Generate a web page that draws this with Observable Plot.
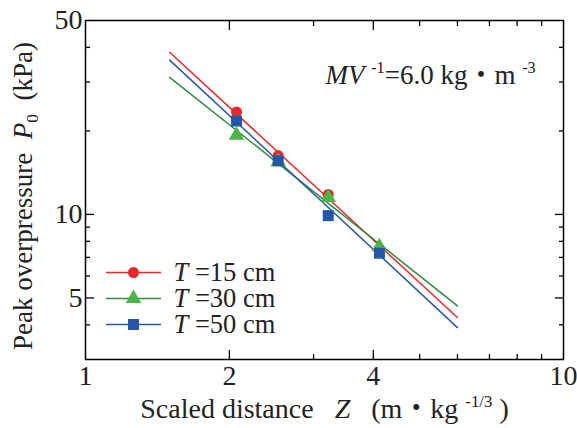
<!DOCTYPE html>
<html><head><meta charset="utf-8">
<script src="https://cdn.jsdelivr.net/npm/d3@7"></script>
<script src="https://cdn.jsdelivr.net/npm/@observablehq/plot@0.6"></script>
<style>
body{margin:0;background:#fff;}
</style>
</head><body><div id="chart"></div>
<script>
// ---- data ----
const zValues = [2.07, 2.53, 3.22, 4.12];
const p15 = [23.4, 16.3, 11.8, 7.5];
const p30 = [19.3, 15.5, 11.5, 7.65];
const p50 = [21.7, 15.6, 9.9, 7.25];
const fitZ = [1.5, 6.0];
const fit15 = [38.4, 4.25];
const fit30 = [31.2, 4.68];
const fit50 = [36.0, 3.91];
const seriesNames = ["T =15 cm", "T =30 cm", "T =50 cm"];
const xTickLabels = [1, 2, 4, 10];
const xMajorTicks = [2, 4];
const xMinorTicks = [3, 5, 6, 7, 8, 9];
const yTickLabels = [5, 10, 50];
const yMajorTicks = [5, 10];
const yMinorTicks = [4, 6, 7, 8, 9, 20, 30, 40];

// ---- styles ----
const lineColors = ["#ec2a2a", "#2f8a3f", "#2657a8"];
const markColors = ["#e8282a", "#4db548", "#2556a8"];
const symbols = ["circle", "triangle", "square"];
const markR = [5.5, 5.8, 6.2];
const FONT = "Liberation Serif";
const CJK = "Noto Sans CJK JP";

const pointSets = [p15, p30, p50];
const fitSets = [fit15, fit30, fit50];
const points = pointSets.map(vals => zValues.map((z, j) => ({z, p: vals[j]})));
const fits = fitSets.map(vals => fitZ.map((z, j) => ({z, p: vals[j]})));

const hline = {draw(ctx) { ctx.moveTo(-27.5, 0); ctx.lineTo(27.5, 0); }};

const marks = [
  Plot.frame({stroke: "black", strokeWidth: 1.5}),
  // inward ticks on all four sides
  ...["bottom", "top"].flatMap(a => [
    Plot.axisX({anchor: a, ticks: xMajorTicks, tickSize: -9, fill: null, label: null, strokeWidth: 1.3}),
    Plot.axisX({anchor: a, ticks: xMinorTicks, tickSize: -5, fill: null, label: null, strokeWidth: 1.3})
  ]),
  ...["left", "right"].flatMap(a => [
    Plot.axisY({anchor: a, ticks: yMajorTicks, tickSize: -9, fill: null, label: null, strokeWidth: 1.3}),
    Plot.axisY({anchor: a, ticks: yMinorTicks, tickSize: -5, fill: null, label: null, strokeWidth: 1.3})
  ]),
  Plot.axisX({anchor: "bottom", ticks: xTickLabels, tickSize: 0, tickPadding: 6, fontSize: 28, fontFamily: FONT, tickFormat: d => String(d), label: null, fill: "#222"}),
  Plot.axisY({anchor: "left", ticks: yTickLabels, tickSize: 0, tickPadding: 3, fontSize: 28, fontFamily: FONT, tickFormat: d => String(d), label: null, fill: "#222"}),
  ...fits.map((f, i) => Plot.line(f, {x: "z", y: "p", stroke: lineColors[i], strokeWidth: 1.5})),
  ...points.map((pts, i) => Plot.dot(pts, {x: "z", y: "p", symbol: symbols[i], fill: markColors[i], r: markR[i]})),
  // legend
  ...seriesNames.flatMap((name, i) => [
    Plot.dot([name], {frameAnchor: "top-left", dx: 48, dy: 252 + 26 * i, symbol: hline, stroke: lineColors[i], strokeWidth: 1.5, fill: "none"}),
    Plot.dot([name], {frameAnchor: "top-left", dx: 48, dy: 252 + 26 * i, symbol: symbols[i], fill: markColors[i], r: markR[i]}),
    Plot.text([name], {frameAnchor: "top-left", dx: 88, dy: 252 + 26 * i, text: d => d, textAnchor: "start", lineAnchor: "middle", fontSize: 26.5, fontFamily: FONT, fill: "#222"})
  ]),
  Plot.text(["MV -1=6.0 kg・m -3"], {frameAnchor: "top-left", dx: 240, dy: 55, text: d => d, textAnchor: "start", lineAnchor: "middle", fontSize: 27, fontFamily: FONT, fill: "#222"}),
  Plot.text(["Scaled distance   Z   (m・kg -1/3 )"], {frameAnchor: "bottom", dy: 50, text: d => d, textAnchor: "middle", lineAnchor: "middle", fontSize: 28, fontFamily: FONT, fill: "#222"}),
  Plot.text(["Peak overpressure  P0  (kPa)"], {frameAnchor: "left", dx: -62, dy: 6, rotate: -90, text: d => d, textAnchor: "middle", lineAnchor: "middle", fontSize: 27, fontFamily: FONT, fill: "#222"})
];

const chart = Plot.plot({
  width: 577, height: 428,
  marginLeft: 85, marginRight: 14, marginTop: 20, marginBottom: 69,
  style: {background: "#fff", color: "black"},
  x: {type: "log", domain: [1, 10]},
  y: {type: "log", domain: [3, 50]},
  marks
});
chart.setAttribute("font-family", FONT);
document.getElementById("chart").appendChild(chart);

// rich text formatting (italic, sub/superscripts)
const NS = "http://www.w3.org/2000/svg";
function rich(el, parts, base) {
  el.textContent = "";
  el.style.whiteSpace = "pre";
  let cur = 0;
  for (const [t, k] of parts) {
    const ts = document.createElementNS(NS, "tspan");
    ts.textContent = t;
    let target = 0;
    if (k === "sup") { target = -0.42 * base; ts.setAttribute("font-size", 0.6 * base); }
    if (k === "sub") { target = 0.22 * base; ts.setAttribute("font-size", 0.65 * base); }
    if (k === "i") ts.setAttribute("font-style", "italic");
    if (k === "cjk") ts.style.setProperty("font-family", CJK, "important");
    if (target !== cur) { ts.setAttribute("dy", target - cur); cur = target; }
    el.appendChild(ts);
  }
}
const formats = {
  "T =15 cm": [["T", "i"], [" =15 cm", ""]],
  "T =30 cm": [["T", "i"], [" =30 cm", ""]],
  "T =50 cm": [["T", "i"], [" =50 cm", ""]],
  "MV -1=6.0 kg・m -3": [["MV", "i"], [" ", ""], ["-1", "sup"], ["=6.0 kg", ""], ["・", "cjk"], ["m ", ""], ["-3", "sup"]],
  "Scaled distance   Z   (m・kg -1/3 )": [["Scaled distance   ", ""], ["Z", "i"], ["   (m", ""], ["・", "cjk"], ["kg ", ""], ["-1/3", "sup"], [" )", ""]],
  "Peak overpressure  P0  (kPa)": [["Peak overpressure  ", ""], ["P", "i"], ["0", "sub"], ["  (kPa)", ""]]
};
d3.select(chart).selectAll("text").each(function() {
  this.style.setProperty("font-family", FONT, "important");
  const f = formats[this.textContent];
  const size = parseFloat(this.closest("g").getAttribute("font-size")) || 27;
  if (f) rich(this, f, size);
});
</script>
</body></html>
